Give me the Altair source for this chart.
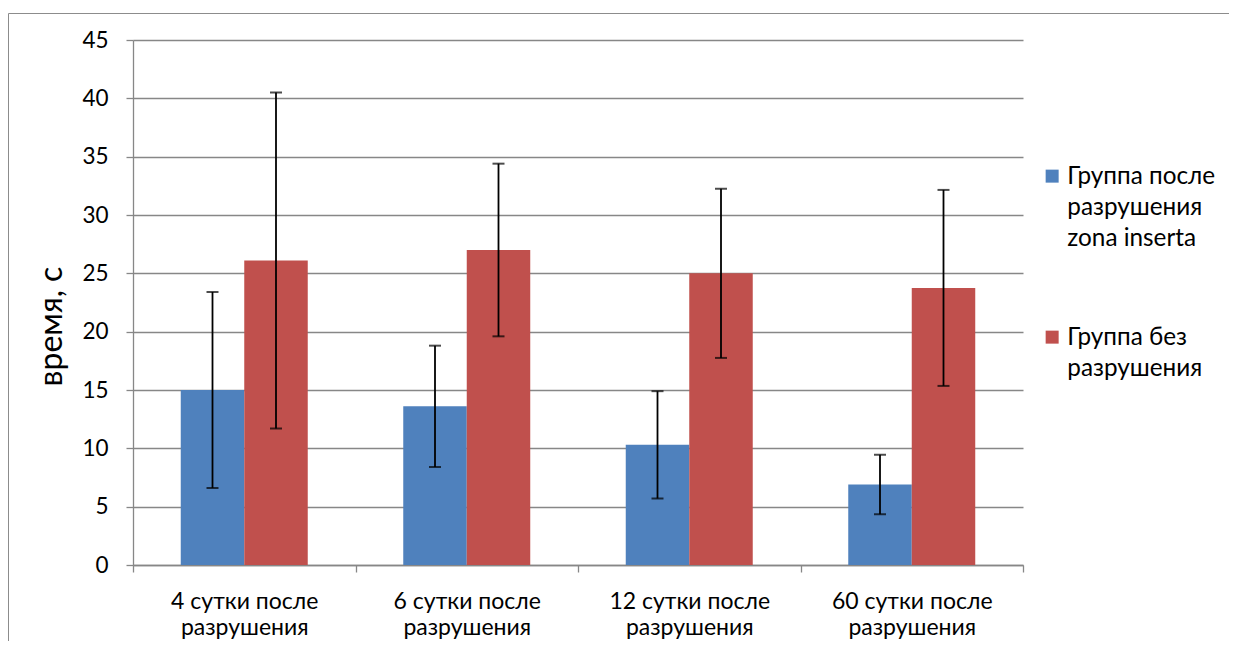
import altair as alt
import pandas as pd

categories = [
    "4 сутки после разрушения",
    "6 сутки после разрушения",
    "12 сутки после разрушения",
    "60 сутки после разрушения",
]
series = ["Группа после разрушения zona inserta", "Группа без разрушения"]
means_lesion = [15.0, 13.6, 10.3, 6.9]
errors_lesion = [8.4, 5.2, 4.6, 2.55]
means_control = [26.1, 27.0, 25.0, 23.75]
errors_control = [14.4, 7.4, 7.25, 8.4]
colors = ["#4F81BD", "#C0504D"]
y_ticks = [0, 5, 10, 15, 20, 25, 30, 35, 40, 45]

rows = []
for s, means, errs in [(series[0], means_lesion, errors_lesion), (series[1], means_control, errors_control)]:
    for c, m, e in zip(categories, means, errs):
        rows.append({"category": c, "series": s, "mean": m, "lo": m - e, "hi": m + e})
df = pd.DataFrame(rows)

GRAY = "#878787"

x_enc = alt.X(
    "category:N",
    sort=categories,
    scale=alt.Scale(paddingInner=0, paddingOuter=0),
    axis=alt.Axis(
        title=None,
        labelAngle=0,
        labelExpr="datum.label ? [replace(datum.label, ' разрушения', ''), 'разрушения'] : ''",
        labelFlush=False,
        labelLineHeight=26,
        tickBand="extent",
        grid=False,
        domainColor=GRAY,
        domainWidth=1.3,
        tickColor=GRAY,
        tickWidth=1.3,
        tickSize=7,
        labelPadding=18,
        labelFontSize=23,
        labelColor="black",
    ),
)
xoff_enc = alt.XOffset(
    "series:N", sort=series, scale=alt.Scale(paddingInner=0, paddingOuter=0.752)
)
y_scale = alt.Scale(domain=[0, 45])

bars = alt.Chart(df).mark_bar().encode(
    x=x_enc,
    xOffset=xoff_enc,
    y=alt.Y(
        "mean:Q",
        scale=y_scale,
        axis=alt.Axis(
            values=y_ticks,
            title="время, с",
            titleFontSize=32,
            titleFontWeight="normal",
            titleColor="black",
            titleX=-72,
            titleY=286,
            titleAngle=270,
            titleBaseline="alphabetic",
            labelFontSize=22.5,
            labelColor="black",
            labelPadding=18,
            tickSize=7,
            tickColor=GRAY,
            tickWidth=1.3,
            domainColor=GRAY,
            domainWidth=1.3,
            gridColor=GRAY,
            gridWidth=1.3,
        ),
    ),
    color=alt.Color(
        "series:N",
        scale=alt.Scale(domain=series, range=colors),
        legend=alt.Legend(
            title=None,
            orient="none",
            direction="vertical",
            legendX=907,
            legendY=113,
            labelExpr="datum.label == 'Группа без разрушения' ? ['Группа без', 'разрушения'] : ['Группа после', 'разрушения', 'zona inserta']",
            labelFontSize=24.3,
            labelColor="black",
            labelBaseline="top",
            labelLimit=300,
            labelOffset=3,
            symbolType="M-1,0.69 L1,0.69 L1,2.69 L-1,2.69 Z",
            symbolSize=169,
            symbolStrokeWidth=0,
            rowPadding=62,
        ),
    ),
)

err_rules = alt.Chart(df).mark_rule(color="black", strokeWidth=1.8).encode(
    x=x_enc, xOffset=xoff_enc, y=alt.Y("lo:Q", scale=y_scale), y2="hi:Q"
)
cap_hi = alt.Chart(df).mark_tick(color="black", thickness=2, size=12).encode(
    x=x_enc, xOffset=xoff_enc, y=alt.Y("hi:Q", scale=y_scale)
)
cap_lo = alt.Chart(df).mark_tick(color="black", thickness=2, size=12).encode(
    x=x_enc, xOffset=xoff_enc, y=alt.Y("lo:Q", scale=y_scale)
)

frame = alt.Chart(pd.DataFrame({"f": [0]})).mark_rect(
    fillOpacity=0, stroke="#8c8c8c", strokeWidth=1
).encode(
    x=alt.value(-124.5), x2=alt.value(1120), y=alt.value(-26.5), y2=alt.value(640)
)

chart = (
    alt.layer(frame, bars, err_rules, cap_hi, cap_lo)
    .properties(
        width=890,
        height=525,
        padding={"left": 125, "top": 32, "right": 206, "bottom": 76},
        autosize=alt.AutoSizeParams(type="none"),
    )
    .configure(font="Lato", style={"guide-label": {"lineHeight": 31}})
    .configure_view(strokeWidth=0)
)

chart.save("out.html", embed_options={"renderer": "svg", "actions": False})
